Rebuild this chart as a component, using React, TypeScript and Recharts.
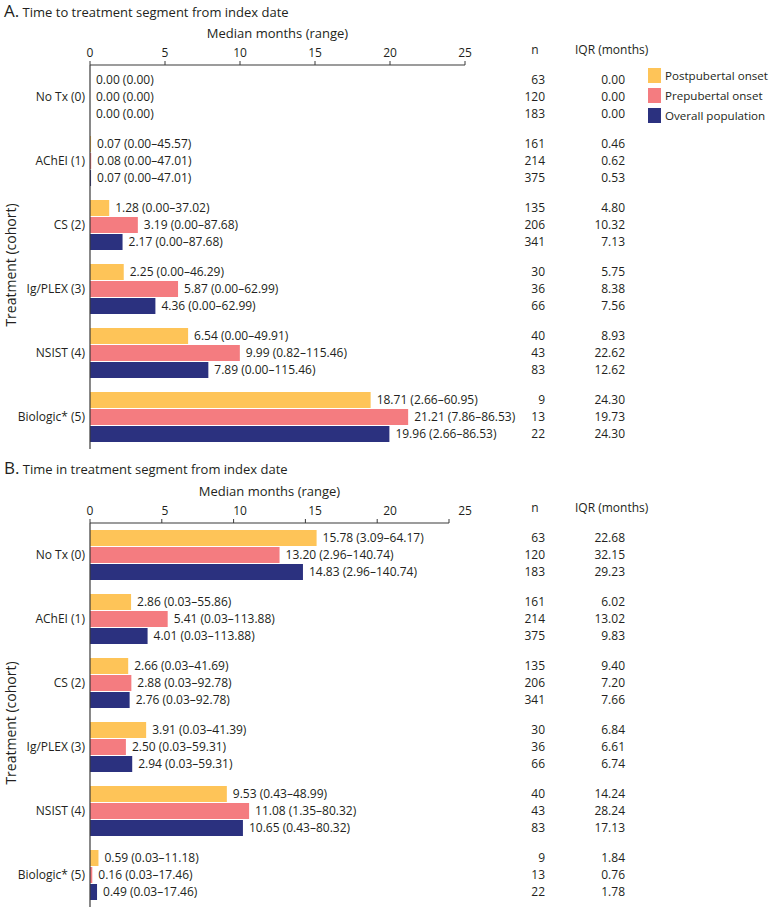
import React from 'react';
import { BarChart, Bar, XAxis, YAxis, LabelList, Legend } from 'recharts';

const FONT = '"Open Sans", "Noto Sans", sans-serif';
const TEXT = '#231f20';
const AXIS = '#3a3a3a';

// ---------- data ----------
const categories = ['No Tx (0)', 'AChEI (1)', 'CS (2)', 'Ig/PLEX (3)', 'NSIST (4)', 'Biologic* (5)'];
const seriesNames = ['Postpubertal onset', 'Prepubertal onset', 'Overall population'];
const seriesColors = ['#fec458', '#f47c80', '#2b317f'];
const xTicks = [0, 5, 10, 15, 20, 25];

const nPost = [63, 161, 135, 30, 40, 9];
const nPre = [120, 214, 206, 36, 43, 13];
const nOverall = [183, 375, 341, 66, 83, 22];

// Panel A: time to treatment segment
const aPostMedian = [0.0, 0.07, 1.28, 2.25, 6.54, 18.71];
const aPostRange = ['0.00', '0.00–45.57', '0.00–37.02', '0.00–46.29', '0.00–49.91', '2.66–60.95'];
const aPostIqr = [0.0, 0.46, 4.8, 5.75, 8.93, 24.3];
const aPreMedian = [0.0, 0.08, 3.19, 5.87, 9.99, 21.21];
const aPreRange = ['0.00', '0.00–47.01', '0.00–87.68', '0.00–62.99', '0.82–115.46', '7.86–86.53'];
const aPreIqr = [0.0, 0.62, 10.32, 8.38, 22.62, 19.73];
const aOverallMedian = [0.0, 0.07, 2.17, 4.36, 7.89, 19.96];
const aOverallRange = ['0.00', '0.00–47.01', '0.00–87.68', '0.00–62.99', '0.00–115.46', '2.66–86.53'];
const aOverallIqr = [0.0, 0.53, 7.13, 7.56, 12.62, 24.3];

// Panel B: time in treatment segment
const bPostMedian = [15.78, 2.86, 2.66, 3.91, 9.53, 0.59];
const bPostRange = ['3.09–64.17', '0.03–55.86', '0.03–41.69', '0.03–41.39', '0.43–48.99', '0.03–11.18'];
const bPostIqr = [22.68, 6.02, 9.4, 6.84, 14.24, 1.84];
const bPreMedian = [13.2, 5.41, 2.88, 2.5, 11.08, 0.16];
const bPreRange = ['2.96–140.74', '0.03–113.88', '0.03–92.78', '0.03–59.31', '1.35–80.32', '0.03–17.46'];
const bPreIqr = [32.15, 13.02, 7.2, 6.61, 28.24, 0.76];
const bOverallMedian = [14.83, 4.01, 2.76, 2.94, 10.65, 0.49];
const bOverallRange = ['2.96–140.74', '0.03–113.88', '0.03–92.78', '0.03–59.31', '0.43–80.32', '0.03–17.46'];
const bOverallIqr = [29.23, 9.83, 7.66, 6.74, 17.13, 1.78];

// ---------- layout ----------
const CHART_W = 769;
const Y_AXIS_W = 90;
const X_AXIS_H = 65;
const PLOT_W_A = 375;
const PLOT_W_B = 359;
const N_COL_X = 545;
const IQR_COL_X = 625;

const fmt = (v: number) => v.toFixed(2);

function buildRows(medians: number[][], ranges: string[][], iqrs: number[][], ns: number[][]) {
  return categories.map((cohort, i) => {
    const row: any = { cohort };
    for (let s = 0; s < 3; s++) {
      row['v' + s] = medians[s][i];
      row['l' + s] = `${fmt(medians[s][i])} (${ranges[s][i]})`;
      row['n' + s] = String(ns[s][i]);
      row['q' + s] = fmt(iqrs[s][i]);
    }
    return row;
  });
}

const rowsA = buildRows(
  [aPostMedian, aPreMedian, aOverallMedian],
  [aPostRange, aPreRange, aOverallRange],
  [aPostIqr, aPreIqr, aOverallIqr],
  [nPost, nPre, nOverall]
);
const rowsB = buildRows(
  [bPostMedian, bPreMedian, bOverallMedian],
  [bPostRange, bPreRange, bOverallRange],
  [bPostIqr, bPreIqr, bOverallIqr],
  [nPost, nPre, nOverall]
);

const columnText = (colX: number) => (props: any) => {
  const vb = props.viewBox || props;
  const y = Number(vb.y) + Number(vb.height) / 2;
  return (
    <text x={colX} y={y} dy="0.35em" textAnchor="end" fill={TEXT} fontSize={12} fontFamily={FONT}>
      {props.value}
    </text>
  );
};

const YLabel = (props: any) => {
  const vb = props.viewBox || {};
  const x = Number(vb.x) + 10;
  const y = Number(vb.y) + Number(vb.height) / 2 + 8;
  return (
    <text
      x={x}
      y={y}
      transform={`rotate(-90, ${x}, ${y})`}
      textAnchor="middle"
      dominantBaseline="central"
      fill={TEXT}
      fontSize={14}
      fontFamily={FONT}
    >
      Treatment (cohort)
    </text>
  );
};

const LegendContent = (props: any) => {
  const payload = [...(props.payload || [])].sort(
    (a: any, b: any) => seriesNames.indexOf(a.value) - seriesNames.indexOf(b.value)
  );
  return (
    <div style={{ fontFamily: FONT, fontSize: 11.6, color: TEXT, whiteSpace: 'nowrap' }}>
      {payload.map((p: any, i: number) => (
        <div key={i} style={{ display: 'flex', alignItems: 'center', height: 20 }}>
          <span style={{ display: 'inline-block', width: 13, height: 15, background: p.color, marginRight: 4, flexShrink: 0 }} />
          <span>{p.value}</span>
        </div>
      ))}
    </div>
  );
};

const shiftedTick = (shiftPerUnit: number) => (props: any) => {
  const { x, y, payload } = props;
  return (
    <text
      x={Number(x) + payload.value * shiftPerUnit}
      y={y}
      textAnchor="middle"
      fill={TEXT}
      fontSize={12}
      fontFamily={FONT}
    >
      {payload.value}
    </text>
  );
};

function Panel({ rows, plotW, height, bottom, showLegend, tick }: any) {
  return (
    <BarChart
      width={CHART_W}
      height={height}
      data={rows}
      layout="vertical"
      margin={{ top: 0, right: CHART_W - Y_AXIS_W - plotW, bottom, left: 0 }}
      barSize={16}
      barGap={1}
    >
      <XAxis
        type="number"
        orientation="top"
        domain={[0, 25]}
        ticks={xTicks}
        height={X_AXIS_H}
        tickSize={4}
        tickMargin={4}
        stroke={AXIS}
        axisLine={{ stroke: AXIS, strokeWidth: 1.2 }}
        tickLine={{ stroke: AXIS }}
        tick={tick || { fill: TEXT, fontSize: 12, fontFamily: FONT }}
        allowDataOverflow
        label={{ value: 'Median months (range)', position: 'insideTop', offset: 29, fill: TEXT, fontSize: 13, fontFamily: FONT }}
      />
      <YAxis
        type="category"
        dataKey="cohort"
        width={Y_AXIS_W}
        tickLine={false}
        tickSize={0}
        tickMargin={5}
        axisLine={{ stroke: AXIS, strokeWidth: 1.2 }}
        tick={{ fill: TEXT, fontSize: 12, fontFamily: FONT }}
        label={<YLabel />}
      />
      {showLegend && (
        <Legend
          layout="vertical"
          align="center"
          verticalAlign="middle"
          content={<LegendContent />}
          wrapperStyle={{ left: 648, top: 65, width: 121 }}
        />
      )}
      {[0, 1, 2].map((s) => (
        <Bar
          key={s}
          dataKey={'v' + s}
          name={seriesNames[s]}
          fill={seriesColors[s]}
          minPointSize={0.01}
          isAnimationActive={false}
        >
          <LabelList dataKey={'l' + s} position="right" offset={6} fill={TEXT} fontSize={12} fontFamily={FONT} />
          <LabelList dataKey={'n' + s} content={columnText(N_COL_X)} />
          <LabelList dataKey={'q' + s} content={columnText(IQR_COL_X)} />
        </Bar>
      ))}
    </BarChart>
  );
}

const titleStyle: React.CSSProperties = {
  position: 'absolute',
  left: 4,
  fontFamily: FONT,
  color: TEXT,
  fontSize: 13,
  whiteSpace: 'nowrap',
  lineHeight: '20px',
};

const headerStyle: React.CSSProperties = {
  position: 'absolute',
  fontFamily: FONT,
  color: TEXT,
  fontSize: 12,
  whiteSpace: 'nowrap',
  lineHeight: '16px',
};

export default function App() {
  return (
    <div style={{ position: 'absolute', left: 0, top: 0, width: 769, height: 910, background: '#fff', overflow: 'hidden' }}>
      <div style={{ position: 'absolute', left: 0, top: 0 }}>
        <Panel rows={rowsA} plotW={PLOT_W_A} height={458} bottom={9} showLegend />
      </div>
      <div style={{ position: 'absolute', left: 0, top: 458 }}>
        <Panel rows={rowsB} plotW={PLOT_W_B} height={452} bottom={3} tick={shiftedTick((PLOT_W_A - PLOT_W_B) / 25)} />
      </div>
      <div style={{ ...titleStyle, top: 1 }}>
        <span style={{ fontSize: 17 }}>A.</span> Time to treatment segment from index date
      </div>
      <div style={{ ...titleStyle, top: 458 }}>
        <span style={{ fontSize: 17 }}>B.</span> Time in treatment segment from index date
      </div>
      {[0, 458].map((top) => (
        <React.Fragment key={top}>
          <div style={{ ...headerStyle, top: top + 42, left: 535, transform: 'translateX(-50%)' }}>n</div>
          <div style={{ ...headerStyle, top: top + 42, left: 575 }}>IQR (months)</div>
        </React.Fragment>
      ))}
    </div>
  );
}
